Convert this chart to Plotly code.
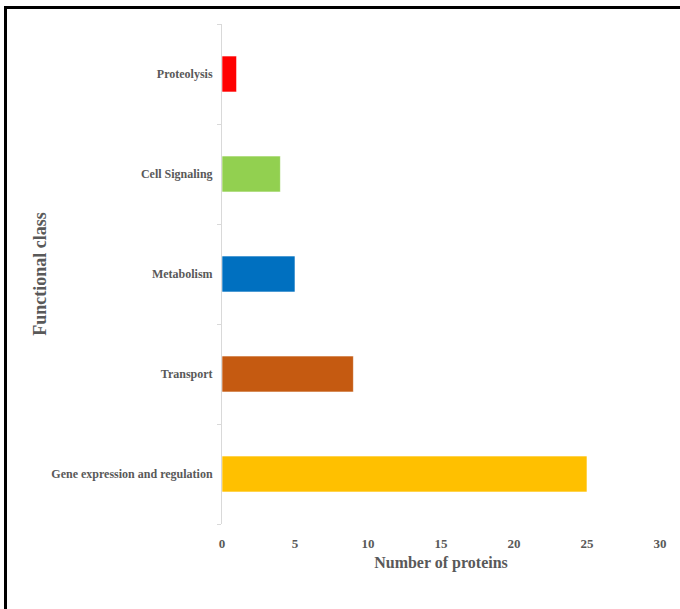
import plotly.graph_objects as go

# Functional classes (top to bottom) and protein counts
categories = ["Proteolysis", "Cell Signaling", "Metabolism", "Transport",
              "Gene expression and regulation"]
counts = [1, 4, 5, 9, 25]
colors = ["#FF0000", "#92D050", "#0070C0", "#C55A11", "#FFC000"]
x_ticks = [0, 5, 10, 15, 20, 25, 30]

W, H = 680, 609
L, R, T, B = 222, 20, 24, 85
pw, ph = W - L - R, H - T - B

font_family = "Liberation Serif"
text_color = "#595959"

fig = go.Figure(
    go.Bar(
        y=categories,
        x=counts,
        orientation="h",
        width=0.36,
        marker=dict(color=colors, line=dict(color="rgba(255,255,255,0.6)", width=1)),
        hoverinfo="x+y",
    )
)


def px_to_paper_x(px):
    return (px - L) / pw


def px_to_paper_y(py):
    return (H - B - py) / ph


fig.update_layout(
    width=W,
    height=H,
    margin=dict(l=L, r=R, t=T, b=B),
    paper_bgcolor="white",
    plot_bgcolor="white",
    showlegend=False,
    font=dict(family=font_family, color=text_color, size=12),
    xaxis=dict(
        range=[0, 30],
        tickvals=x_ticks,
        showgrid=False,
        zeroline=False,
        showline=False,
        ticks="",
        ticklabelstandoff=10,
        tickfont=dict(family=font_family, size=13, color=text_color, weight="bold"),
        title=dict(text="<b>Number of proteins</b>",
                   font=dict(family=font_family, size=16, color=text_color),
                   standoff=6),
    ),
    yaxis=dict(
        categoryorder="array",
        categoryarray=categories[::-1],
        showgrid=False,
        zeroline=False,
        showline=True,
        linecolor="#D9D9D9",
        linewidth=1,
        ticks="outside",
        tickson="boundaries",
        ticklen=4,
        tickcolor="#D9D9D9",
        ticklabelstandoff=6,
        tickfont=dict(family=font_family, size=12, color=text_color, weight="bold"),
        title=dict(text="<b>Functional class</b>",
                   font=dict(family=font_family, size=18, color=text_color),
                   standoff=0),
    ),
    shapes=[
        dict(
            type="rect",
            xref="paper", yref="paper",
            x0=px_to_paper_x(5.5), x1=px_to_paper_x(690),
            y0=px_to_paper_y(620), y1=px_to_paper_y(7.5),
            line=dict(color="black", width=3),
            fillcolor="rgba(0,0,0,0)",
            layer="above",
        )
    ],
)

fig.write_html("out.html")
